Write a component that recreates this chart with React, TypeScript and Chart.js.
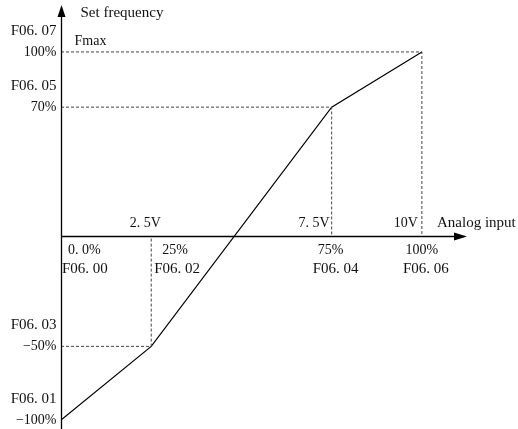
import { useEffect, useRef } from 'react';
import { Chart, registerables, LinearScale } from 'chart.js';

// ---- data ----
const curveX = [0, 25, 75, 100]; // analog input, %
const curveY = [-100, -50, 70, 100]; // set frequency, %
const xTickValues = [0, 25, 75, 100];
const xPctLabels = ['0. 0%', '25%', '75%', '100%'];
const xParamLabels = ['F06. 00', 'F06. 02', 'F06. 04', 'F06. 06'];
const xVoltLabels = ['', '2. 5V', '7. 5V', '10V'];
const yTickValues = [100, 70, -50, -100];
const yPctLabels = ['100%', '70%', '\u221250%', '\u2212100%'];
const yParamLabels = ['F06. 07', 'F06. 05', 'F06. 03', 'F06. 01'];
const yTitle = 'Set frequency';
const xTitle = 'Analog input';
const fmaxLabel = 'Fmax';

// schematic (non-proportional) vertical scale: data value -> drawn value
const warpKnots = [
  [-200, -180],
  [-100, -100],
  [-50, -60],
  [0, 0],
  [200, 200],
];
function interp(v: number, a: number, b: number) {
  for (let i = 0; i < warpKnots.length - 1; i++) {
    const p = warpKnots[i];
    const q = warpKnots[i + 1];
    if (v <= q[a] || i === warpKnots.length - 2) {
      return p[b] + ((v - p[a]) * (q[b] - p[b])) / (q[a] - p[a]);
    }
  }
  return v;
}
const warp = (v: number) => interp(v, 0, 1);
const unwarp = (v: number) => interp(v, 1, 0);

class WarpScale extends LinearScale {
  static id = 'warp';
  getPixelForValue(value: any) {
    if (value === null || value === undefined) return NaN;
    return super.getPixelForValue(warp(value));
  }
  getValueForPixel(pixel: number) {
    return unwarp(super.getValueForPixel(pixel) as number);
  }
}

Chart.register(...registerables, WarpScale);

const SERIF = '"Liberation Serif", "Times New Roman", serif';

const xPctPlace = [
  { align: 'left', dx: 7 },
  { align: 'left', dx: 11 },
  { align: 'center', dx: -1 },
  { align: 'center', dx: 0 },
];
const xParamPlace = [
  { align: 'left', dx: 1 },
  { align: 'left', dx: 3 },
  { align: 'center', dx: 4 },
  { align: 'center', dx: 4 },
];
const xVoltPlace = [
  { align: 'center', dx: 0 },
  { align: 'center', dx: -6 },
  { align: 'right', dx: -2 },
  { align: 'right', dx: -4 },
];

const annotatePlugin = {
  id: 'annotate',
  afterDatasetsDraw(chart: any) {
    const ctx = chart.ctx as CanvasRenderingContext2D;
    const xs = chart.scales.x;
    const ys = chart.scales.y;
    const area = chart.chartArea;
    const ax = Math.round(xs.getPixelForValue(0)) + 0.5;
    const ay = Math.round(ys.getPixelForValue(0)) + 0.5;
    ctx.save();
    ctx.strokeStyle = '#000';
    ctx.fillStyle = '#000';
    ctx.lineWidth = 1.3;
    ctx.setLineDash([]);
    // y axis
    ctx.beginPath();
    ctx.moveTo(ax, area.bottom);
    ctx.lineTo(ax, area.top + 8);
    ctx.stroke();
    ctx.beginPath();
    ctx.moveTo(ax, area.top);
    ctx.lineTo(ax - 4, area.top + 12);
    ctx.lineTo(ax + 4, area.top + 12);
    ctx.closePath();
    ctx.fill();
    // x axis
    ctx.beginPath();
    ctx.moveTo(ax, ay);
    ctx.lineTo(area.right - 8, ay);
    ctx.stroke();
    ctx.beginPath();
    ctx.moveTo(area.right, ay);
    ctx.lineTo(area.right - 13, ay - 4);
    ctx.lineTo(area.right - 13, ay + 4);
    ctx.closePath();
    ctx.fill();

    ctx.fillStyle = '#111';
    // axis titles
    ctx.font = `15px ${SERIF}`;
    ctx.textAlign = 'left';
    ctx.textBaseline = 'middle';
    ctx.fillText(yTitle, ax + 19, area.top + 8);
    ctx.fillText(xTitle, area.right - 30, ay - 13);
    ctx.font = `14px ${SERIF}`;
    ctx.fillText(fmaxLabel, ax + 13, ys.getPixelForValue(100) - 11);

    // y labels
    ctx.textAlign = 'right';
    yTickValues.forEach((v, i) => {
      const py = ys.getPixelForValue(v);
      ctx.font = `14px ${SERIF}`;
      ctx.fillText(yPctLabels[i], ax - 5, py);
      ctx.font = `15px ${SERIF}`;
      ctx.fillText(yParamLabels[i], ax - 5, py - 21);
    });

    // x labels
    xTickValues.forEach((v, i) => {
      const px = xs.getPixelForValue(v);
      ctx.font = `14px ${SERIF}`;
      ctx.textAlign = xPctPlace[i].align as CanvasTextAlign;
      ctx.fillText(xPctLabels[i], px + xPctPlace[i].dx, ay + 14);
      ctx.font = `15px ${SERIF}`;
      ctx.textAlign = xParamPlace[i].align as CanvasTextAlign;
      ctx.fillText(xParamLabels[i], px + xParamPlace[i].dx, ay + 33);
      if (xVoltLabels[i]) {
        ctx.font = `14px ${SERIF}`;
        ctx.textAlign = xVoltPlace[i].align as CanvasTextAlign;
        ctx.fillText(xVoltLabels[i], px + xVoltPlace[i].dx, ay - 13);
      }
    });
    ctx.restore();
  },
};

export default function App() {
  const ref = useRef<HTMLCanvasElement | null>(null);
  useEffect(() => {
    document.body.style.margin = '0';
    const canvas = ref.current;
    if (!canvas) return;
    const guideSets = curveX.slice(1).map((x, k) => {
      const y = curveY[k + 1];
      return {
        label: 'guide' + k,
        data: [
          { x: 0, y },
          { x, y },
          { x, y: 0 },
        ],
        borderColor: '#444',
        borderWidth: 1,
        borderDash: [3, 2],
        pointRadius: 0,
        tension: 0,
        fill: false,
      };
    });
    const chart = new Chart(canvas, {
      type: 'line',
      data: {
        datasets: [
          ...guideSets,
          {
            label: 'curve',
            data: curveX.map((x, i) => ({ x, y: curveY[i] })),
            borderColor: '#000',
            borderWidth: 1.2,
            pointRadius: 0,
            tension: 0,
            fill: false,
          },
        ],
      },
      options: {
        responsive: false,
        animation: false,
        layout: { padding: { left: 61, right: 51, top: 5, bottom: 0 } },
        scales: {
          x: { type: 'linear', min: 0, max: 112.5, display: false },
          y: { type: 'warp' as any, min: -104.9, max: 125.5, display: false },
        },
        plugins: { legend: { display: false }, tooltip: { enabled: false } },
        events: [],
      } as any,
      plugins: [annotatePlugin],
    });
    return () => chart.destroy();
  }, []);
  return (
    <div style={{ width: 518, height: 429, background: '#fff' }}>
      <canvas ref={ref} width={518} height={429} style={{ display: 'block' }} />
    </div>
  );
}
